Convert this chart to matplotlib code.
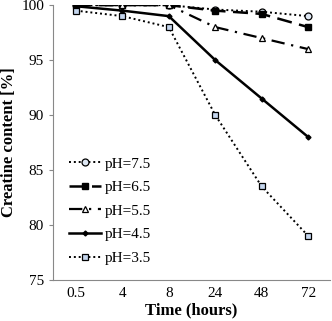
import matplotlib
matplotlib.use("Agg")
import matplotlib.pyplot as plt

times = ['0.5', '4', '8', '24', '48', '72']
ph75 = [100, 100, 100, 99.6, 99.4, 99.0]
ph65 = [100, 100, 100, 99.5, 99.2, 98.0]
ph55 = [100, 100, 100, 98.0, 97.0, 96.0]
ph45 = [99.9, 99.5, 99.0, 95.0, 91.5, 88.0]
ph35 = [99.5, 99.0, 98.0, 90.0, 83.5, 79.0]

plt.rcParams['font.family'] = ['Liberation Serif', 'DejaVu Serif']

fig = plt.figure(figsize=(3.32, 3.21), dpi=100)
ax = fig.add_axes([0.16, 0.128, 0.834, 0.856])
x = list(range(len(times)))

ax.plot(x, ph75, color='black', linestyle=(0, (1, 1.5)), lw=1.4,
        marker='o', ms=5, mfc='#dde6f2', mec='black', mew=0.9, label='pH=7.5')
ax.plot(x, ph65, color='black', linestyle=(0, (6, 3)), lw=1.8,
        marker='s', ms=5, mfc='black', mec='black', label='pH=6.5')
ax.plot(x, ph55, color='black', linestyle=(0, (6, 3, 1, 3)), lw=1.6,
        marker='^', ms=5, mfc='white', mec='black', mew=0.9, label='pH=5.5')
ax.plot(x, ph45, color='black', linestyle='-', lw=1.8,
        marker='D', ms=2.5, mfc='black', mec='black', label='pH=4.5')
ax.plot(x, ph35, color='black', linestyle=(0, (1, 1.5)), lw=1.4,
        marker='s', ms=5, mfc='#c5d6ee', mec='black', mew=0.9, label='pH=3.5')

ax.set_xlim(-0.49, 5.47)
ax.set_ylim(75, 100)
ax.set_yticks([75, 80, 85, 90, 95, 100])
ax.set_xticks(x)
ax.set_xticklabels(times)
ax.tick_params(axis='x', length=0, labelsize=11, pad=5)
ax.tick_params(axis='y', length=3, width=0.8, labelsize=11, color='#888888')

for s in ['top', 'right']:
    ax.spines[s].set_visible(False)
for s in ['left', 'bottom']:
    ax.spines[s].set_color('#888888')
    ax.spines[s].set_linewidth(0.8)

ax.set_xlabel('Time (hours)', fontsize=12, fontweight='bold', labelpad=2)
ax.set_ylabel('Creatine content [%]', fontsize=12, fontweight='bold', labelpad=3)

ax.legend(loc='lower left', bbox_to_anchor=(0.02, 0.015), frameon=False,
          fontsize=11, handlelength=2.1, handletextpad=0.2, labelspacing=0.65,
          borderpad=0.2)

fig.savefig('out.png', dpi=100)
